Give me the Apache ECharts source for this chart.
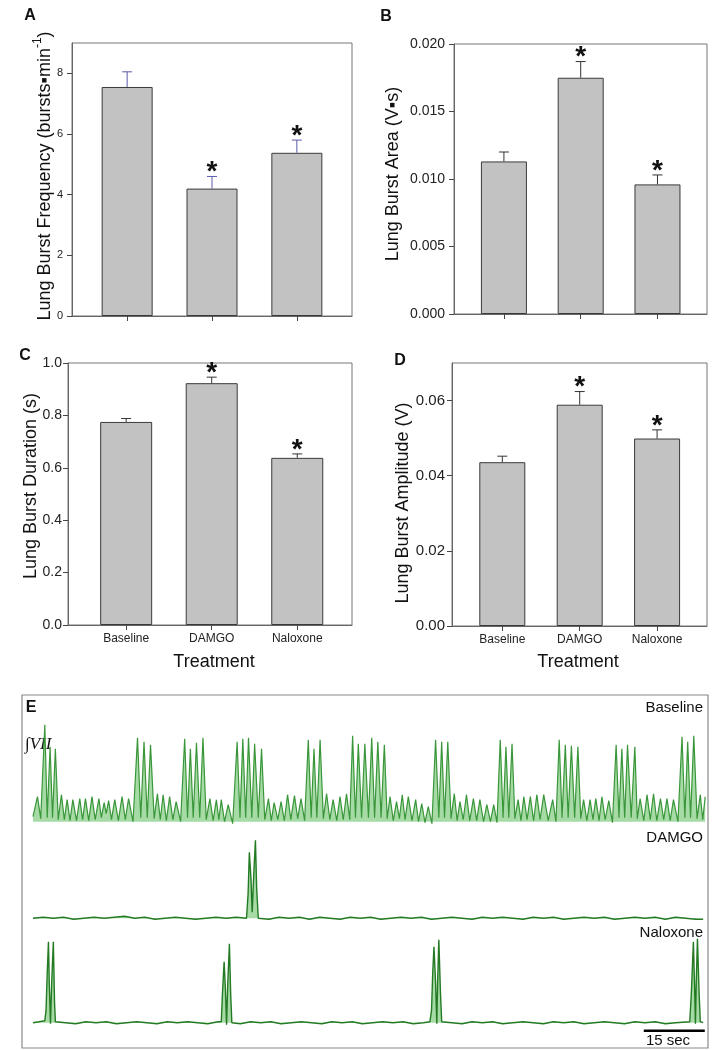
<!DOCTYPE html>
<html><head><meta charset="utf-8">
<script src="https://cdn.jsdelivr.net/npm/echarts@6/dist/echarts.min.js"></script>
<style>html,body{margin:0;padding:0;background:#fff}#c{width:713px;height:1050px}</style>
</head><body><div id="c"></div>
<script>
// ---------- data ----------
const categories = ['Baseline', 'DAMGO', 'Naloxone'];
const catPos = [1, 2, 3];
const signif = [false, true, true];

const freqMean = [7.55, 4.2, 5.38];
const freqSem  = [0.5, 0.4, 0.42];
const areaMean = [0.0113, 0.0175, 0.0096];
const areaSem  = [0.0007, 0.0012, 0.0007];
const durMean  = [0.775, 0.923, 0.638];
const durSem   = [0.013, 0.023, 0.015];
const ampMean  = [0.0436, 0.0589, 0.0499];
const ampSem   = [0.0016, 0.0035, 0.0023];

// integrated VII traces: [time (s), amplitude (a.u.)]
const baselineTrace = [[0,5],[1.1,25],[1.9,3],[2.9,97],[3.5,4],[4.2,75],[4.8,4],[5.5,73],[6.2,2],[7.0,27],[7.7,2],[8.4,22],[9.1,1],[9.8,22],[10.7,1],[11.5,23],[12.2,2],[12.9,23],[13.7,1],[14.5,25],[15.3,2],[16.2,23],[16.8,4],[17.5,19],[18.0,8],[18.6,21],[19.3,2],[20.1,22],[21.0,1],[21.9,25],[22.7,2],[23.5,23],[24.6,0],[25.7,84],[26.5,4],[27.3,80],[28.1,4],[28.9,77],[29.8,3],[30.6,28],[31.3,2],[32.0,27],[32.8,1],[33.6,25],[34.4,2],[35.2,20],[36.3,0],[37.3,83],[38.0,4],[38.7,73],[39.4,4],[40.2,79],[41.0,4],[41.8,84],[42.6,2],[43.5,23],[44.3,1],[45.1,22],[45.7,2],[46.3,22],[47.1,0],[48.0,17],[49.1,-2],[50.2,80],[50.9,4],[51.6,83],[52.3,4],[53.0,84],[53.8,4],[54.5,78],[55.4,4],[56.2,73],[57.0,2],[57.9,23],[58.6,1],[59.3,19],[60.2,2],[61.0,20],[61.8,1],[62.6,27],[63.4,2],[64.3,26],[65.1,3],[65.9,23],[66.8,1],[67.7,82],[68.4,4],[69.1,73],[69.8,4],[70.6,82],[71.4,3],[72.2,28],[73.0,2],[73.8,22],[74.7,1],[75.5,25],[76.3,2],[77.1,28],[77.9,2],[78.6,86],[79.3,4],[80.0,78],[80.8,4],[81.6,78],[82.5,4],[83.3,84],[84.0,4],[84.8,80],[85.6,4],[86.4,77],[87.1,3],[87.8,25],[88.6,1],[89.4,20],[90.1,3],[90.8,27],[91.5,2],[92.3,25],[93.2,1],[94.1,22],[94.8,0],[95.6,18],[96.4,-1],[97.2,15],[98.1,-2],[99.0,82],[99.8,4],[100.5,80],[101.2,4],[102.0,80],[102.8,3],[103.6,28],[104.3,1],[105.0,20],[105.8,2],[106.6,27],[107.4,1],[108.3,23],[109.1,1],[109.9,22],[110.8,0],[111.6,17],[112.5,0],[113.3,17],[114.1,-1],[114.9,82],[115.6,4],[116.3,75],[117.0,4],[117.8,78],[118.5,3],[119.3,22],[120.0,1],[120.7,25],[121.5,2],[122.3,25],[123.1,1],[123.9,27],[124.7,2],[125.6,27],[126.7,1],[127.8,22],[128.6,0],[129.4,82],[130.1,4],[130.9,77],[131.6,4],[132.4,76],[133.2,4],[134.0,75],[134.7,3],[135.4,22],[136.2,1],[137.0,22],[137.7,2],[138.4,23],[139.2,1],[139.9,25],[140.7,2],[141.6,21],[142.5,-1],[143.4,77],[144.1,4],[144.8,73],[145.5,4],[146.2,77],[147.1,4],[148.0,75],[148.6,3],[149.3,23],[150.2,1],[151.0,27],[151.8,2],[152.6,28],[153.4,1],[154.3,23],[155.1,2],[155.9,23],[156.7,1],[157.5,22],[158.6,0],[159.6,85],[160.3,4],[161.0,80],[161.7,4],[162.5,86],[163.3,3],[164.1,27],[164.7,2],[165.3,25]];

const damgoTrace = [[0,0],[2.5,1],[5,0],[7.5,1],[10,-1],[12.5,0],[15,1],[17.5,0],[20,1],[22.5,2],[25,0],[27.5,1],[30,-1],[32.5,0],[35,1],[37.5,0],[40,-1],[42.5,0],[45,1],[47.5,0],[50,1],[52.5,0],[52.9,25],[53.2,66],[53.6,40],[53.9,6],[54.3,45],[54.7,78],[55.0,30],[55.4,0],[58,-1],[60.5,1],[63,0],[65.5,1],[68,-1],[70.5,1],[73,0],[75.5,-1],[78,1],[80.5,0],[83,1],[85.5,-1],[88,0],[90.5,1],[93,0],[95.5,1],[98,-1],[100.5,0],[103,1],[105.5,0],[108,-1],[110.5,1],[113,0],[115.5,1],[118,0],[120.5,-1],[123,1],[125.5,0],[128,1],[130.5,-1],[133,0],[135.5,1],[138,0],[140.5,1],[143,-1],[145.5,0],[148,1],[150.5,0],[153,1],[155.5,-1],[158,1],[160.5,0],[163,-1],[164.8,-1]];

const naloxoneTrace = [[0,0],[1.5,1],[2.9,2],[3.2,12],[3.5,50],[3.8,81],[4.0,40],[4.3,-1],[4.6,40],[5.0,81],[5.3,20],[5.5,1],[8,0],[10.5,-1],[13,1],[15.5,0],[18,1],[20.5,-1],[23,0],[25.5,1],[28,0],[30.5,-1],[33,1],[35.5,0],[38,1],[40.5,0],[43,-1],[45.5,1],[46.3,1],[46.6,30],[47.0,61],[47.3,35],[47.6,-2],[47.9,40],[48.3,79],[48.6,30],[48.9,0],[51,-1],[53.5,1],[56,0],[58.5,1],[61,-1],[63.5,0],[66,1],[68.5,0],[71,-1],[73.5,1],[76,0],[78.5,1],[81,-1],[83.5,0],[86,1],[88.5,0],[91,1],[93.5,-1],[96,0],[97.6,1],[98.0,12],[98.3,50],[98.6,76],[99.0,40],[99.3,-1],[99.5,40],[99.8,83],[100.2,30],[100.5,1],[103,0],[105.5,-1],[108,1],[110.5,0],[113,1],[115.5,-1],[118,0],[120.5,1],[123,0],[125.5,-1],[128,1],[130.5,0],[133,1],[135.5,-1],[138,0],[140.5,1],[143,0],[145.5,-1],[148,1],[150.5,0],[153,1],[155.5,-1],[158,0],[161.5,1],[161.9,30],[162.4,81],[162.7,35],[162.9,-1],[163.1,40],[163.4,84],[163.8,30],[164.1,1],[164.8,0]];

const scaleBarSec = [150.2, 165.2];   // 15 s scale bar
const scaleBarLevel = -8;

// ---------- helpers ----------
const FONT = 'Arial, "Liberation Sans", sans-serif';

function barPanel(gi, mean, w) {
  return {
    type: 'bar', xAxisIndex: gi, yAxisIndex: gi, barWidth: w, silent: true,
    data: mean.map((m, i) => [catPos[i], m]),
    itemStyle: { color: '#c2c2c2', borderColor: '#3a3a3a', borderWidth: 1 }
  };
}
function errPanel(gi, mean, sem, color) {
  return {
    type: 'custom', xAxisIndex: gi, yAxisIndex: gi, z: 5, silent: true,
    data: mean.map((m, i) => [catPos[i], m, m + sem[i], signif[i] ? 1 : 0]),
    renderItem(params, api) {
      const x = api.value(0), m = api.value(1), t = api.value(2), s = api.value(3);
      const p0 = api.coord([x, m]), p1 = api.coord([x, t]);
      const ch = [
        { type: 'line', shape: { x1: p0[0], y1: p0[1], x2: p1[0], y2: p1[1] }, style: { stroke: color, lineWidth: 1 } },
        { type: 'line', shape: { x1: p1[0] - 5, y1: p1[1], x2: p1[0] + 5, y2: p1[1] }, style: { stroke: color, lineWidth: 1 } }
      ];
      if (s) ch.push({ type: 'text', x: p1[0], y: p1[1] - 4,
        style: { text: '*', font: 'bold 28px ' + FONT, fill: '#111', align: 'center', verticalAlign: 'middle', textAlign: 'center', textVerticalAlign: 'middle' } });
      return { type: 'group', children: ch };
    }
  };
}
function xAx(gi, min, max, labels) {
  return {
    gridIndex: gi, type: 'value', min: min, max: max,
    axisLine: { show: true, lineStyle: { color: '#666' } },
    axisTick: { show: true, customValues: catPos, length: 5, lineStyle: { color: '#444' } },
    axisLabel: { show: labels, customValues: catPos, formatter: v => categories[Math.round(v) - 1] || '',
      fontSize: 12, color: '#222', margin: 8, fontFamily: FONT },
    splitLine: { show: false }
  };
}
function yAx(gi, max, interval, dec, fs, margin, showMax) {
  return {
    gridIndex: gi, type: 'value', min: 0, max: max, interval: interval,
    axisLine: { show: true, lineStyle: { color: '#666' } },
    axisTick: { show: true, length: 5, lineStyle: { color: '#444' } },
    axisLabel: { formatter: v => v.toFixed(dec), fontSize: fs, color: '#222', margin: margin, fontFamily: FONT, showMaxLabel: showMax },
    splitLine: { show: false }
  };
}
function traceAxes(gi, ymin, ymax) {
  return [
    { gridIndex: gi, type: 'value', min: 0, max: 165.5, show: false },
    { gridIndex: gi, type: 'value', min: ymin, max: ymax, show: false }
  ];
}
function traceSeries(gi, data, w, col) {
  return {
    type: 'line', xAxisIndex: gi, yAxisIndex: gi, data: data, symbol: 'none', silent: true,
    lineStyle: { color: col, width: w }, areaStyle: { color: '#a6dba6', opacity: 1 }
  };
}
function txt(x, y, text, font, align, rot, extra) {
  return {
    type: 'text', x: x, y: y, rotation: rot || 0, silent: true,
    style: Object.assign({ text: text, font: font, fill: '#111',
      align: align || 'center', verticalAlign: 'middle', textAlign: align || 'center', textVerticalAlign: 'middle' }, extra || {})
  };
}

const gridBox = { show: true, borderColor: '#777', borderWidth: 1, backgroundColor: 'transparent' };
const tA = traceAxes(4, -10, 110), tD = traceAxes(5, -10, 90), tN = traceAxes(6, -12, 90);

const option = {
  animation: false,
  backgroundColor: '#fff',
  grid: [
    Object.assign({ left: 72, top: 43, width: 280, height: 273 }, gridBox),
    Object.assign({ left: 454, top: 44, width: 253, height: 270 }, gridBox),
    Object.assign({ left: 68, top: 363, width: 284, height: 262 }, gridBox),
    Object.assign({ left: 452, top: 363, width: 255, height: 263 }, gridBox),
    { left: 33, top: 711.7, width: 673, height: 120 },
    { left: 33, top: 828.3, width: 673, height: 100 },
    { left: 33, top: 932.7, width: 673, height: 102 }
  ],
  xAxis: [
    xAx(0, 0.35, 3.65, false), xAx(1, 0.35, 3.645, false),
    xAx(2, 0.32, 3.64, true), xAx(3, 0.35, 3.645, true),
    tA[0], tD[0], tN[0]
  ],
  yAxis: [
    yAx(0, 9, 2, 0, 11, 9, false),
    yAx(1, 0.02, 0.005, 3, 14, 9, true),
    yAx(2, 1.0, 0.2, 1, 14, 6, true),
    yAx(3, 0.07, 0.02, 2, 15, 7, false),
    tA[1], tD[1], tN[1]
  ],
  series: [
    barPanel(0, freqMean, 51), errPanel(0, freqMean, freqSem, '#5a5aaa'),
    barPanel(1, areaMean, 46), errPanel(1, areaMean, areaSem, '#333'),
    barPanel(2, durMean, 52), errPanel(2, durMean, durSem, '#333'),
    barPanel(3, ampMean, 46), errPanel(3, ampMean, ampSem, '#333'),
    traceSeries(4, baselineTrace, 1.2, '#3a963a'),
    traceSeries(5, damgoTrace, 1.4, '#237a23'),
    traceSeries(6, naloxoneTrace, 1.4, '#237a23'),
    { type: 'line', xAxisIndex: 6, yAxisIndex: 6, symbol: 'none', silent: true,
      data: scaleBarSec.map(t => [t, scaleBarLevel]), lineStyle: { color: '#000', width: 2.5 } }
  ],
  graphic: [
    { type: 'rect', shape: { x: 22, y: 695, width: 686, height: 353 }, style: { fill: 'none', stroke: '#8a8a8a', lineWidth: 1.2 }, silent: true },
    txt(30, 16, 'A', 'bold 16px ' + FONT),
    txt(386, 17, 'B', 'bold 16px ' + FONT),
    txt(25, 356, 'C', 'bold 16px ' + FONT),
    txt(400, 361, 'D', 'bold 16px ' + FONT),
    txt(31, 708, 'E', 'bold 16px ' + FONT),
    txt(43, 176, '{n|Lung Burst Frequency (bursts▪min}{s|-1}{n|)}', '18px ' + FONT, 'center', Math.PI / 2,
      { rich: { n: { fontSize: 18, fontFamily: FONT, fill: '#111', lineHeight: 22, verticalAlign: 'bottom' },
                s: { fontSize: 12, fontFamily: FONT, fill: '#111', lineHeight: 22, verticalAlign: 'top' } } }),
    txt(393, 174, 'Lung Burst Area (V▪s)', '18px ' + FONT, 'center', Math.PI / 2),
    txt(31, 486, 'Lung Burst Duration (s)', '18px ' + FONT, 'center', Math.PI / 2),
    txt(403, 503, 'Lung Burst Amplitude (V)', '18px ' + FONT, 'center', Math.PI / 2),
    txt(214, 662, 'Treatment', '18px ' + FONT),
    txt(578, 662, 'Treatment', '18px ' + FONT),
    txt(703, 708, 'Baseline', '15px ' + FONT, 'right'),
    txt(703, 838, 'DAMGO', '15px ' + FONT, 'right'),
    txt(703, 933, 'Naloxone', '15px ' + FONT, 'right'),
    txt(668, 1041, '15 sec', '15px ' + FONT),
    txt(25, 745, '∫VII', 'italic 17px "Liberation Serif", "DejaVu Serif", serif', 'left')
  ]
};
const chart = echarts.init(document.getElementById('c'), null, { renderer: 'canvas' });
chart.setOption(option);
</script></body></html>
